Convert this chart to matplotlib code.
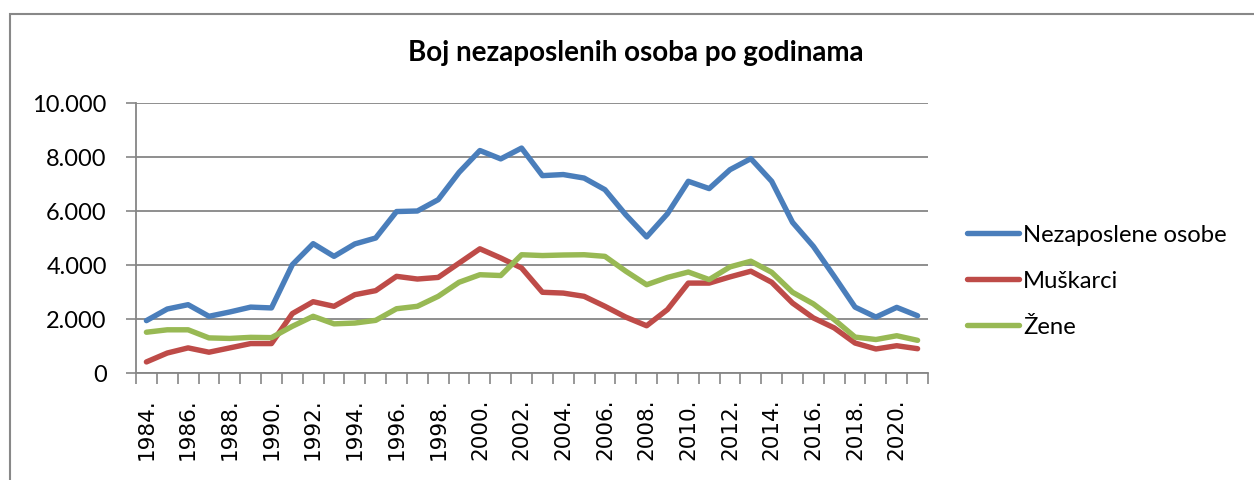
import numpy as np
import matplotlib.pyplot as plt
from matplotlib.patches import Rectangle
from matplotlib.ticker import FuncFormatter, FixedLocator

years = list(range(1984, 2022))
ukupno = [1940, 2370, 2530, 2100, 2260, 2440, 2410, 4010, 4790, 4320, 4780, 5000, 5980,
          6000, 6420, 7430, 8240, 7930, 8330, 7310, 7350, 7220, 6790, 5860, 5040, 5900,
          7100, 6830, 7530, 7940, 7100, 5580, 4690, 3580, 2440, 2070, 2430, 2120]
muskarci = [410, 740, 930, 770, 930, 1090, 1090, 2200, 2640, 2470, 2900, 3050, 3580,
            3480, 3540, 4070, 4600, 4260, 3890, 2990, 2960, 2840, 2470, 2070, 1750, 2350,
            3330, 3330, 3560, 3770, 3360, 2590, 2040, 1670, 1110, 890, 1010, 900]
zene = [1510, 1600, 1600, 1300, 1280, 1320, 1310, 1730, 2100, 1820, 1850, 1950, 2380,
        2470, 2840, 3360, 3640, 3610, 4380, 4350, 4370, 4380, 4320, 3770, 3270, 3540,
        3740, 3460, 3930, 4140, 3730, 2990, 2560, 1980, 1330, 1240, 1380, 1210]
serije = ["Nezaposlene osobe", "Muškarci", "Žene"]
boje = ["#4A7EBB", "#BE4B48", "#98B954"]

plt.rcParams['font.family'] = ['Lato', 'DejaVu Sans']

fig = plt.figure(figsize=(12.54, 4.8), dpi=100)
fig.patches.append(Rectangle((10 / 1254, -0.1), 1.2, 1 - 14 / 480 + 0.1, transform=fig.transFigure,
                             fill=False, edgecolor="#888888", linewidth=1.5))
ax = fig.add_axes([136 / 1254, 1 - 373 / 480, 792 / 1254, 270 / 480])

x = np.arange(len(years))
for vals, lab, c in zip([ukupno, muskarci, zene], serije, boje):
    ax.plot(x, vals, color=c, linewidth=3.9, label=lab, solid_capstyle='round', solid_joinstyle='round')

ax.set_xlim(-0.5, len(years) - 0.5)
ax.set_ylim(0, 10000)
ax.set_yticks(range(0, 10001, 2000))
ax.yaxis.set_major_formatter(FuncFormatter(lambda v, p: f"{int(v):,}".replace(",", ".")))
ax.grid(axis='y', color="#868686", linewidth=1.3)
ax.set_axisbelow(True)

# labels every second year at category centres, tick marks on category boundaries
ax.set_xticks(x[::2])
ax.set_xticklabels([f"{y}." for y in years[::2]], rotation=90, family='DejaVu Sans', fontsize=15.5)
ax.xaxis.set_minor_locator(FixedLocator(np.arange(-0.5, len(years), 1)))
ax.tick_params(axis='x', which='major', length=0, pad=18)
ax.tick_params(axis='x', which='minor', length=8, width=1.2, color="#868686")
ax.tick_params(axis='y', length=7, width=1.2, color="#868686", labelsize=17, pad=14)

for s in ['top', 'right']:
    ax.spines[s].set_visible(False)
for s in ['left', 'bottom']:
    ax.spines[s].set_color("#868686")
    ax.spines[s].set_linewidth(1.3)

ax.set_title("Boj nezaposlenih osoba po godinama", fontsize=20, fontweight='bold', pad=30,
             x=(636 - 136) / 792)

ax.legend(loc='center left', bbox_to_anchor=(1.022, 0.34), frameon=False, fontsize=17.2,
          handlelength=2.2, handletextpad=0.15, labelspacing=1.05)

fig.savefig("out.png", dpi=100)
